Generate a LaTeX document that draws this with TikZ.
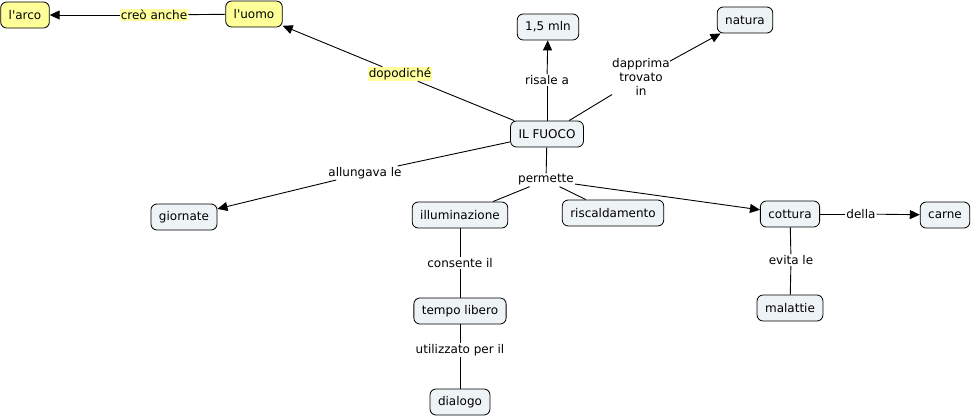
\documentclass[tikz,border=0pt]{standalone}
\usepackage{fontspec}
\setmainfont{DejaVu Sans}
\usetikzlibrary{arrows.meta}
\definecolor{cbox}{HTML}{EEF3F6}
\definecolor{cyel}{HTML}{FFFF99}
\definecolor{clab}{HTML}{FFFFA0}
\newcommand{\sq}{\textquotesingle}
\begin{document}
\begin{tikzpicture}[x=1pt,y=-1pt,
  concept/.style={draw=black, line width=0.8pt, fill=cbox, rounded corners=6pt,
     inner xsep=8pt, inner ysep=0pt, minimum height=26pt, font=\fontsize{12}{14}\selectfont},
  yconcept/.style={concept, fill=cyel},
  lab/.style={fill=white, inner sep=1pt, font=\fontsize{12}{14}\selectfont, align=center},
  ylab/.style={lab, fill=clab},
  conn/.style={draw=black, line width=0.9pt},
  arr/.style={conn, -{Triangle[length=10pt,width=9pt]}}
]
\useasboundingbox (0,0) rectangle (972,418);
% concepts
\node[yconcept] (arco) at (25,15) {l\sq arco};
\node[yconcept] (uomo) at (254,14) {l\sq uomo};
\node[concept] (mln) at (548,27) {1,5 mln};
\node[concept] (natura) at (745,20) {natura};
\node[concept] (fuoco) at (547,134) {IL FUOCO};
\node[concept] (giornate) at (184,217) {giornate};
\node[concept] (illum) at (460,215) {illuminazione};
\node[concept] (risc) at (613,213) {riscaldamento};
\node[concept] (cottura) at (790,214) {cottura};
\node[concept] (carne) at (945,215) {carne};
\node[concept] (tempo) at (460,311) {tempo libero};
\node[concept] (dialogo) at (460,402) {dialogo};
\node[concept] (malattie) at (790,308) {malattie};
% labels
\node[ylab] (creo) at (154,15) {creò anche};
\node[ylab] (dopo) at (400,74) {dopodiché};
\node[lab] (risale) at (547,80) {risale a};
\node[lab, inner sep=0pt] (dapprima) at (641,77) {dapprima\\trovato\\in};
\node[lab] (allung) at (365,173) {allungava le};
\node[lab] (permette) at (546,180) {permette};
\node[lab] (consente) at (460,263) {consente il};
\node[lab] (utiliz) at (460,350) {utilizzato per il};
\node[lab] (della) at (861,214) {della};
\node[lab] (evita) at (791,260) {evita le};
% connectors
\draw[conn] (uomo) -- (creo);
\draw[arr] (creo) -- (arco);
\draw[conn] (fuoco) -- (dopo);
\draw[arr] (dopo) -- (uomo);
\draw[conn] (fuoco) -- (risale);
\draw[arr] (risale) -- (mln);
\draw[conn] (fuoco) -- (dapprima);
\draw[arr] (dapprima) -- (natura);
\draw[conn] (fuoco) -- (allung);
\draw[arr] (allung) -- (giornate);
\draw[conn] (fuoco) -- (permette);
\draw[conn] (permette) -- (illum);
\draw[conn] (permette) -- (risc);
\draw[arr] (permette) -- (cottura);
\draw[conn] (illum) -- (consente);
\draw[conn] (consente) -- (tempo);
\draw[conn] (tempo) -- (utiliz);
\draw[conn] (utiliz) -- (dialogo);
\draw[conn] (cottura) -- (della);
\draw[arr] (della) -- (carne);
\draw[conn] (cottura) -- (evita);
\draw[conn] (evita) -- (malattie);
\end{tikzpicture}
\end{document}
